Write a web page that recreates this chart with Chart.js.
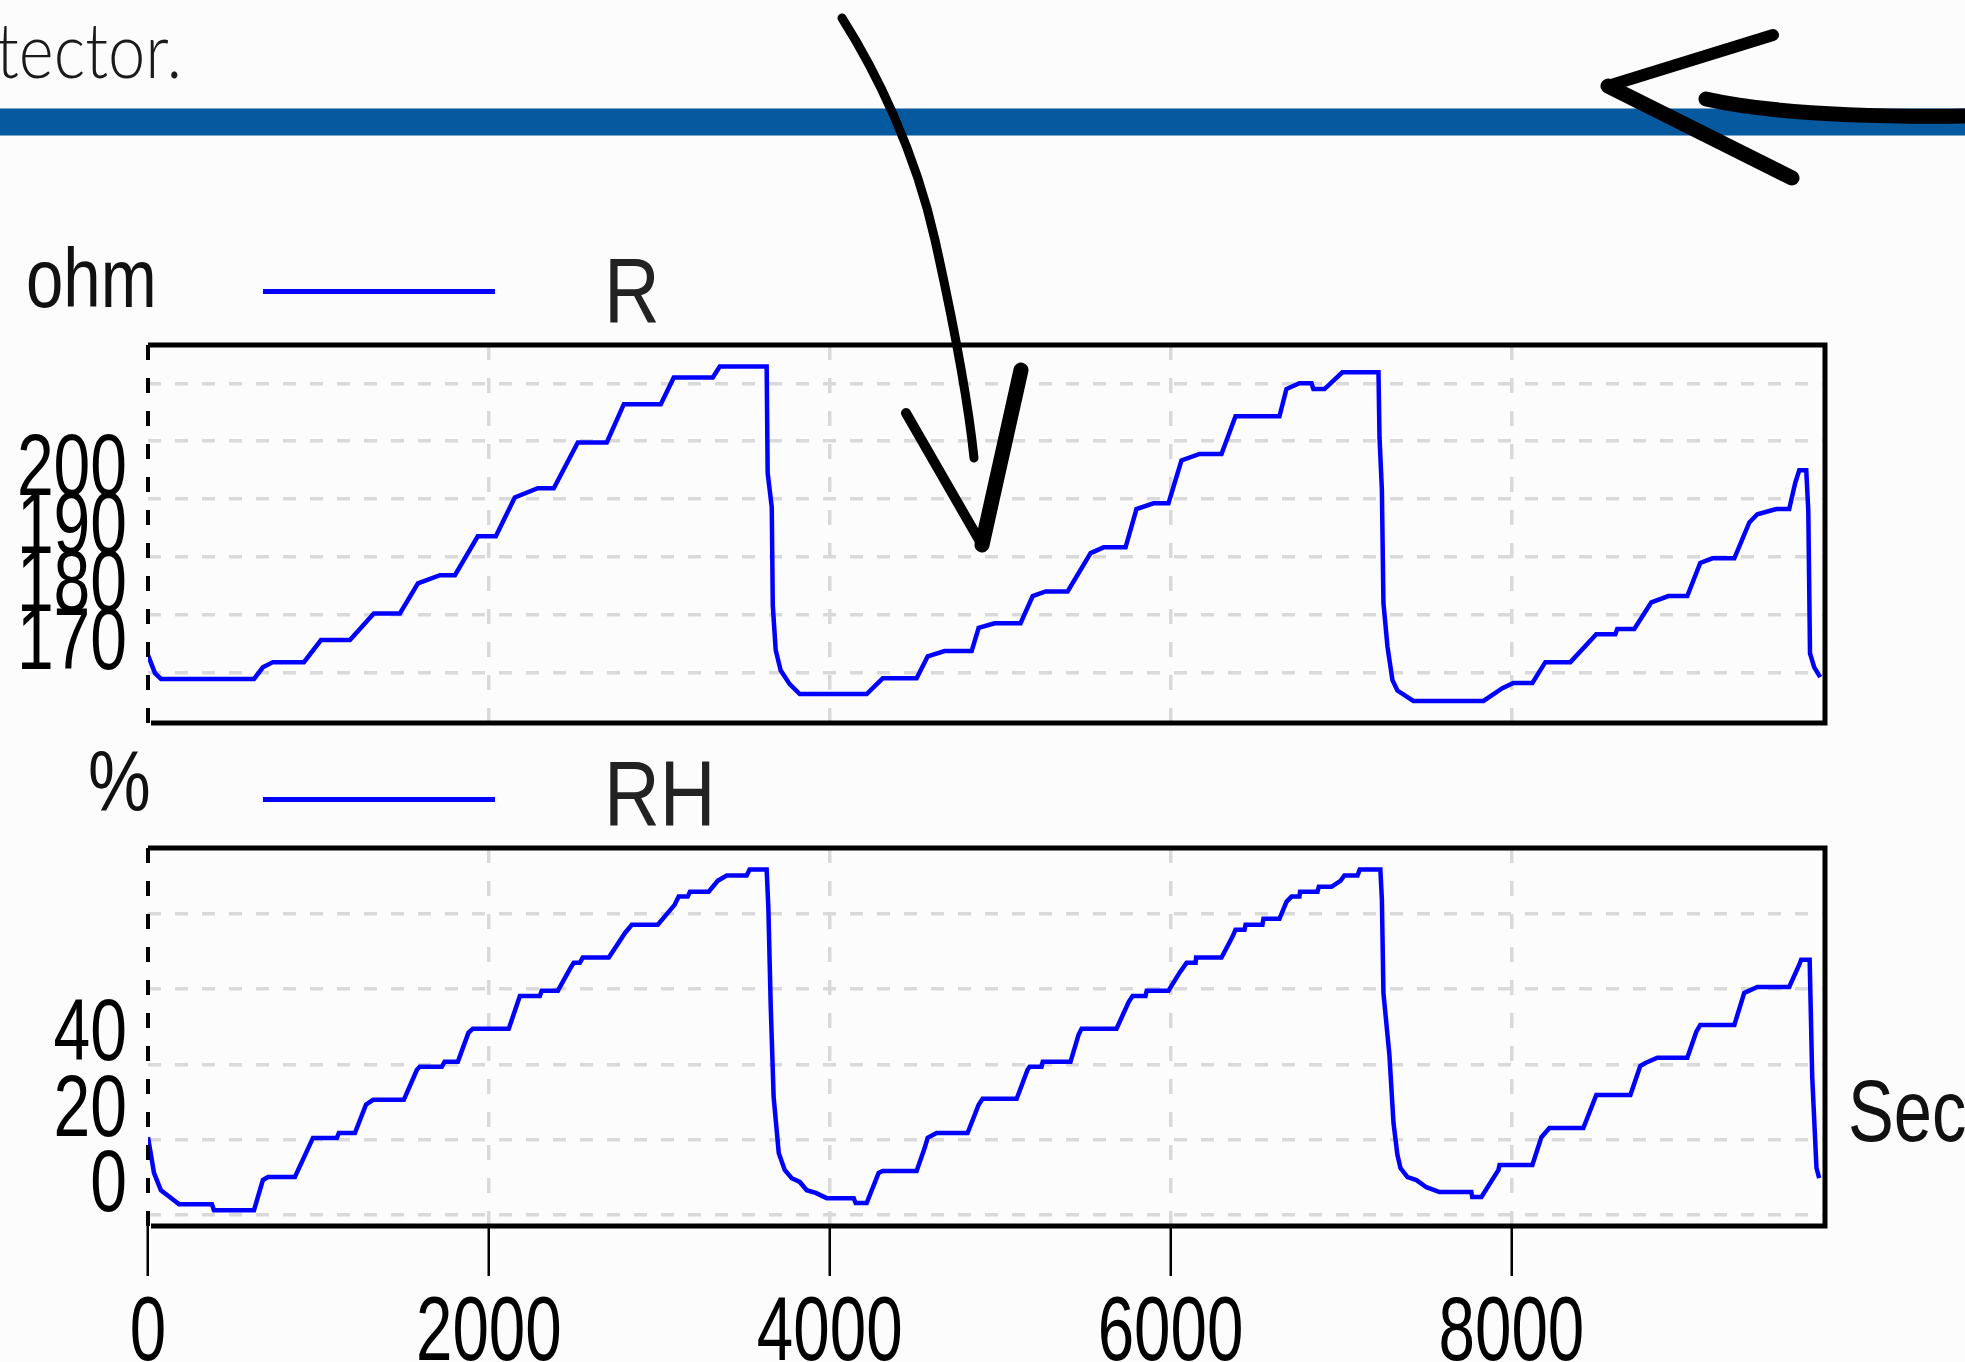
<!DOCTYPE html>
<html>
<head>
<meta charset="utf-8">
<script src="https://cdn.jsdelivr.net/npm/chart.js@4.4.1/dist/chart.umd.min.js"></script>
<style>
  html, body { margin: 0; padding: 0; }
  body { width: 1965px; height: 1362px; overflow: hidden; background: #fcfcfc; position: relative; font-family: 'Liberation Sans', Arial, sans-serif; }
  .abs { position: absolute; white-space: nowrap; line-height: 1; transform-origin: 0 0; }
  .unit { color: #111; }
  #intro { left: -4px; top: 11px; font-family: Lato, 'Open Sans', sans-serif; font-weight: 300; font-size: 76px; color: #1a1a1a; transform: scaleX(0.88); }
  #band { left: 0; top: 108px; width: 1965px; height: 26px; background: #04599f; border-top: 1px solid #7ea6cc; border-bottom: 1px solid #7ea6cc; }
  .key { position: absolute; left: 263px; width: 232px; height: 5px; background: #0000ff; }
  .name { font-size: 92px; color: #222; transform: scaleX(0.84); }
  canvas { position: absolute; left: 0; }
  svg { position: absolute; left: 0; top: 0; }
</style>
</head>
<body>
<div id="intro" class="abs">tector.</div>
<div id="band" class="abs"></div>

<div class="abs unit" style="left:26px; top:236px; font-size:84px; transform:scaleX(0.8);">ohm</div>
<div class="key" style="top:289px;"></div>
<div class="abs name" style="left:604px; top:245px;">R</div>

<div class="abs unit" style="left:88px; top:738px; font-size:86px; transform:scaleX(0.82);">%</div>
<div class="key" style="top:797px;"></div>
<div class="abs name" style="left:604px; top:748px;">RH</div>

<div class="abs unit" style="left:1848px; top:1067px; font-size:88px; transform:scaleX(0.78);">Sec</div>

<canvas id="rChart" width="1965" height="400" style="top:330px;"></canvas>
<canvas id="rhChart" width="1965" height="522" style="top:840px;"></canvas>

<!-- hand drawn arrows on top of the screenshot -->
<svg width="1965" height="1362" viewBox="0 0 1965 1362">
  <g fill="none" stroke="#000" stroke-linecap="round" stroke-linejoin="round">
    <path d="M842 18 C 875 70, 915 150, 935 240 C 955 330, 968 400, 974 458" stroke-width="9"/>
    <path d="M906 413 L 982 545" stroke-width="10"/>
    <path d="M982 545 L 1021 370" stroke-width="15"/>
    <path d="M1773 35 L 1608 86" stroke-width="12"/>
    <path d="M1608 86 L 1792 178" stroke-width="15"/>
    <path d="M1706 99 Q 1790 118 1965 116" stroke-width="15"/>
  </g>
</svg>

<script>
// shared x axis (seconds)
const xTicks = [0, 2000, 4000, 6000, 8000];

// R (ohm) panel
const rTicks = [170, 180, 190, 200, 210, 220];
const rLabels = [170, 180, 190, 200];
const rTime = [0, 41, 76, 622, 674, 733, 915, 1015, 1185, 1325, 1478, 1584, 1713, 1801,
  1935, 2041, 2152, 2287, 2381, 2522, 2692, 2792, 3009, 3085, 3314, 3355, 3630, 3636,
  3660, 3666, 3683, 3712, 3765, 3824, 4217, 4311, 4510, 4575, 4674, 4833, 4874, 4968,
  5120, 5191, 5267, 5396, 5531, 5607, 5736, 5800, 5900, 5988, 6064, 6170, 6299, 6381,
  6639, 6680, 6756, 6827, 6838, 6903, 7008, 7220, 7226, 7240, 7249, 7273, 7302, 7331,
  7425, 7836, 7947, 8011, 8123, 8199, 8346, 8498, 8610, 8621, 8721, 8821, 8921, 9032,
  9108, 9179, 9308, 9396, 9443, 9554, 9630, 9665, 9689, 9730, 9742, 9752, 9777, 9812];
const rOhm = [173.1, 170.0, 169.0, 169.0, 171.0, 171.9, 171.9, 175.7, 175.7, 180.3, 180.3, 185.5, 186.9, 186.9,
  193.6, 193.6, 200.3, 201.9, 201.9, 209.8, 209.8, 216.4, 216.4, 221.0, 221.0, 222.9, 222.9, 204.5,
  198.6, 181.7, 174.0, 170.5, 168.1, 166.4, 166.4, 169.1, 169.1, 172.9, 173.8, 173.8, 177.8, 178.6,
  178.6, 183.3, 184.1, 184.1, 190.7, 191.7, 191.7, 198.3, 199.3, 199.3, 206.7, 207.8, 207.8, 214.3,
  214.3, 219.0, 220.0, 220.0, 219.0, 219.0, 221.9, 221.9, 210.7, 201.6, 182.1, 174.5, 168.8, 167.0,
  165.2, 165.2, 167.4, 168.3, 168.3, 171.9, 171.9, 176.7, 176.7, 177.6, 177.6, 182.2, 183.3, 183.3,
  189.0, 189.8, 189.8, 196.0, 197.4, 198.3, 198.3, 202.8, 205.0, 205.0, 198.0, 173.4, 171.0, 169.3];

// RH (%) panel
const rhTicks = [0, 20, 40, 60, 80];
const rhLabels = [0, 20, 40];
const rhTime = [0, 35, 76, 150, 182, 375, 387, 622, 674, 704, 862, 968, 1108, 1120, 1214,
  1279, 1320, 1501, 1578, 1595, 1724, 1740, 1818, 1880, 1906, 2117, 2182, 2299, 2310, 2405,
  2480, 2498, 2534, 2551, 2704, 2800, 2839, 2991, 3090, 3114, 3167, 3180, 3290, 3343, 3396,
  3513, 3530, 3630, 3640, 3654, 3671, 3701, 3736, 3777, 3824, 3865, 3918, 3982, 4141, 4152,
  4217, 4287, 4311, 4510, 4557, 4575, 4627, 4809, 4874, 4897, 5097, 5161, 5173, 5243, 5250,
  5413, 5460, 5478, 5683, 5754, 5777, 5853, 5860, 5988, 6053, 6094, 6147, 6150, 6299, 6363,
  6381, 6434, 6440, 6539, 6545, 6639, 6680, 6710, 6756, 6760, 6862, 6870, 6944, 6997, 7020,
  7097, 7110, 7231, 7240, 7249, 7284, 7308, 7331, 7349, 7390, 7443, 7501, 7578, 7765, 7770,
  7824, 7924, 7930, 8123, 8176, 8223, 8422, 8498, 8698, 8756, 8786, 8856, 9032, 9085, 9108,
  9308, 9366, 9443, 9630, 9689, 9700, 9750, 9765, 9790, 9806];
const rhPct = [20.7, 11.2, 6.6, 4.0, 2.9, 2.9, 1.3, 1.3, 9.3, 10.1, 10.1, 20.5, 20.5, 21.8, 21.8,
  29.3, 30.6, 30.6, 38.6, 39.4, 39.4, 40.7, 40.7, 48.4, 49.5, 49.5, 58.2, 58.2, 59.6, 59.6,
  65.7, 67.0, 67.0, 68.4, 68.4, 75.0, 77.1, 77.1, 82.4, 84.6, 84.6, 85.9, 85.9, 88.8, 90.2,
  90.2, 91.8, 91.8, 81.6, 55.3, 31.4, 16.5, 12.0, 9.8, 8.8, 6.6, 5.9, 4.5, 4.5, 3.2,
  3.2, 11.2, 11.7, 11.7, 17.8, 20.5, 21.8, 21.8, 29.3, 30.9, 30.9, 38.6, 39.4, 39.4, 40.7,
  40.7, 47.9, 49.5, 49.5, 56.6, 58.2, 58.2, 59.6, 59.6, 64.4, 67.0, 67.0, 68.4, 68.4, 73.9,
  75.8, 75.8, 77.1, 77.1, 78.7, 78.7, 83.2, 84.6, 84.6, 85.9, 85.9, 87.2, 87.2, 88.8, 90.2,
  90.2, 91.8, 91.8, 83.8, 59.0, 42.6, 24.5, 16.0, 12.5, 10.1, 9.3, 7.4, 6.1, 6.1, 4.8,
  4.8, 12.0, 13.3, 13.3, 20.7, 23.1, 23.1, 31.9, 31.9, 39.6, 40.4, 41.8, 41.8, 48.7, 50.5,
  50.5, 59.0, 60.6, 60.6, 66.5, 67.8, 67.8, 36.7, 12.5, 9.8];

const labelFamily = "'Liberation Sans', Arial, sans-serif";

// thick black box round the plot, left side dashed like the vertical grid
const framePlugin = {
  id: 'frame',
  afterDraw(chart) {
    const { ctx, chartArea: a } = chart;
    ctx.save();
    ctx.strokeStyle = '#000';
    ctx.lineWidth = 5;
    ctx.beginPath();
    ctx.moveTo(a.left, a.top);
    ctx.lineTo(a.right, a.top);
    ctx.lineTo(a.right, a.bottom);
    ctx.lineTo(a.left + 3, a.bottom);
    ctx.stroke();
    ctx.lineWidth = 4;
    ctx.setLineDash([15, 18]);
    ctx.beginPath();
    ctx.moveTo(a.left, a.top);
    ctx.lineTo(a.left, a.bottom);
    ctx.stroke();
    ctx.restore();
  }
};

// the old plotting program uses very narrow digits, so squeeze them horizontally
function squeezed(ctx, text, x, y, sx) {
  ctx.save();
  ctx.translate(x, y);
  ctx.scale(sx, 1);
  ctx.fillText(text, 0, 0);
  ctx.restore();
}

function makeLabelPlugin(yLabels, showX) {
  return {
    id: 'narrowLabels',
    afterDraw(chart) {
      const { ctx, scales } = chart;
      ctx.save();
      ctx.fillStyle = '#000';
      ctx.textBaseline = 'alphabetic';
      ctx.font = '88px ' + labelFamily;
      ctx.textAlign = 'right';
      yLabels.forEach(v => {
        squeezed(ctx, String(v), scales.y.right - 21, scales.y.getPixelForValue(v) - 4, 0.75);
      });
      if (showX) {
        ctx.font = '91px ' + labelFamily;
        ctx.textAlign = 'center';
        xTicks.forEach(v => {
          squeezed(ctx, String(v), scales.x.getPixelForValue(v), scales.x.top + 134, 0.72);
        });
      }
      ctx.restore();
    }
  };
}

function makePanel(id, times, values, yMin, yMax, yTicks, yLabels, showX, pad) {
  const points = times.map((t, i) => ({ x: t, y: values[i] }));
  return new Chart(document.getElementById(id), {
    type: 'line',
    data: {
      datasets: [{
        data: points,
        borderColor: '#0000ff',
        borderWidth: 4.5,
        pointRadius: 0,
        tension: 0,
        fill: false
      }]
    },
    options: {
      responsive: false,
      animation: false,
      events: [],
      layout: { padding: pad },
      plugins: { legend: { display: false }, tooltip: { enabled: false } },
      scales: {
        x: {
          type: 'linear',
          min: 0,
          max: 9840,
          afterBuildTicks: s => { s.ticks = xTicks.map(v => ({ value: v })); },
          afterFit: s => { s.height = showX ? 136 : 0; s.paddingLeft = 0; s.paddingRight = 0; },
          grid: { color: '#d9d9d9', lineWidth: 3.5, drawTicks: showX, tickLength: 50, tickColor: '#000', tickWidth: 2.5, tickBorderDash: [] },
          border: { display: false, dash: [15, 18] },
          ticks: { display: false }
        },
        y: {
          min: yMin,
          max: yMax,
          afterBuildTicks: s => { s.ticks = yTicks.map(v => ({ value: v })); },
          afterFit: s => { s.width = 148; s.paddingTop = 0; s.paddingBottom = 0; },
          grid: { color: '#d9d9d9', lineWidth: 3.5, drawTicks: false },
          border: { display: false, dash: [13, 14] },
          ticks: { display: false }
        }
      }
    },
    plugins: [framePlugin, makeLabelPlugin(yLabels, showX)]
  });
}

makePanel('rChart', rTime, rOhm, 161.4, 226.6, rTicks, rLabels, false, { left: 0, right: 140, top: 15, bottom: 7 });
makePanel('rhChart', rhTime, rhPct, -2.9, 97.5, rhTicks, rhLabels, true, { left: 0, right: 140, top: 8, bottom: 0 });
</script>
</body>
</html>
